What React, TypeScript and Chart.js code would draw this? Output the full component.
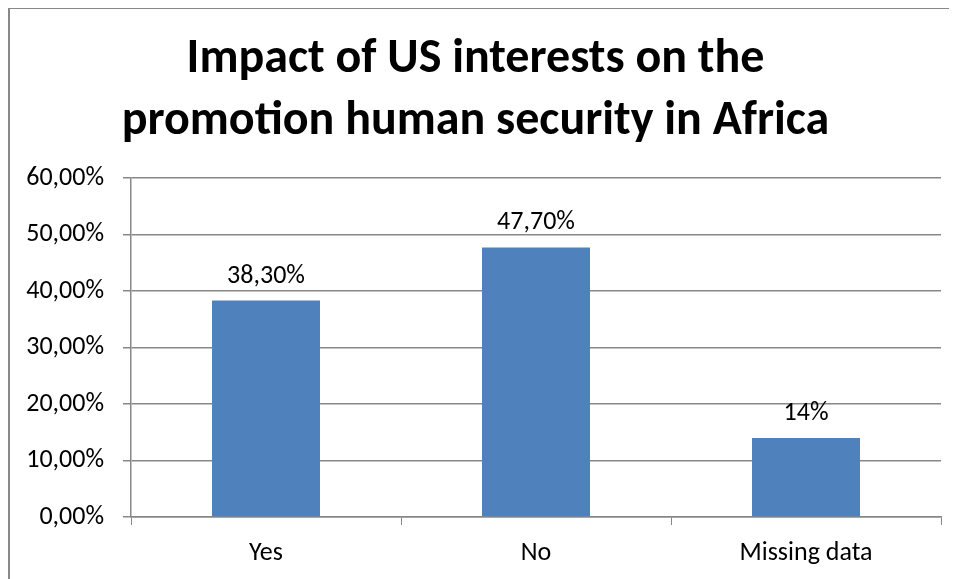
import React, { useEffect, useRef } from "react";
import { Chart, registerables } from "chart.js";

Chart.register(...registerables);

const categories = ["Yes", "No", "Missing data"];
const values = [38.3, 47.7, 14];
const valueLabels = ["38,30%", "47,70%", "14%"];
const titleLines = ["Impact of US interests on the", "promotion human security in Africa"];
const yMin = 0;
const yMax = 60;
const yStep = 10;

const FONT = "Carlito, Lato, 'Open Sans', sans-serif";

const valueLabelPlugin = {
  id: "valueLabels",
  afterDatasetsDraw(chart: any) {
    const ctx = chart.ctx;
    const meta = chart.getDatasetMeta(0);
    ctx.save();
    ctx.font = `26px ${FONT}`;
    ctx.fillStyle = "#000";
    ctx.textAlign = "center";
    ctx.textBaseline = "alphabetic";
    meta.data.forEach((bar: any, i: number) => {
      ctx.fillText(valueLabels[i], bar.x, bar.y - 18);
    });
    ctx.restore();
  },
};

export default function App() {
  const ref = useRef<HTMLCanvasElement>(null);
  useEffect(() => {
    const chart = new Chart(ref.current!, {
      type: "bar",
      data: {
        labels: categories,
        datasets: [
          {
            data: values,
            backgroundColor: "#4F81BD",
            categoryPercentage: 1,
            barPercentage: 0.4,
          },
        ],
      },
      options: {
        animation: false,
        responsive: false,
        layout: { padding: { left: 0, right: 16, top: 0, bottom: 0 } },
        plugins: {
          legend: { display: false },
          tooltip: { enabled: false },
          title: {
            display: true,
            text: titleLines,
            color: "#000",
            font: { family: FONT, size: 48, weight: "bold", lineHeight: 62 / 48 },
            padding: { top: 20, bottom: 25 },
          },
        },
        scales: {
          x: {
            grid: {
              display: true,
              drawOnChartArea: false,
              drawTicks: true,
              tickLength: 8,
              color: "#888",
              offset: true,
            },
            border: { display: true, color: "#888", width: 1.5 },
            ticks: {
              color: "#000",
              font: { family: FONT, size: 26 },
              padding: 13,
            },
            afterFit: (s: any) => {
              s.height = 62;
            },
          },
          y: {
            min: yMin,
            max: yMax,
            grid: { color: "#888", lineWidth: 1.5, tickLength: 8 },
            border: { display: true, color: "#888", width: 1.5 },
            ticks: {
              stepSize: yStep,
              color: "#000",
              font: { family: FONT, size: 26 },
              padding: 19,
              callback: (v: any) => Number(v).toFixed(2).replace(".", ",") + "%",
            },
            afterFit: (s: any) => {
              s.width = 121;
            },
          },
        },
      },
      plugins: [valueLabelPlugin],
    });
    return () => chart.destroy();
  }, []);
  return (
    <div
      style={{
        marginTop: -1,
        width: 949,
        height: 572,
        borderLeft: "2px solid #888",
        borderTop: "2px solid #888",
        boxSizing: "border-box",
        overflow: "hidden",
      }}
    >
      <canvas ref={ref} width={947} height={570} style={{ display: "block" }} />
    </div>
  );
}
